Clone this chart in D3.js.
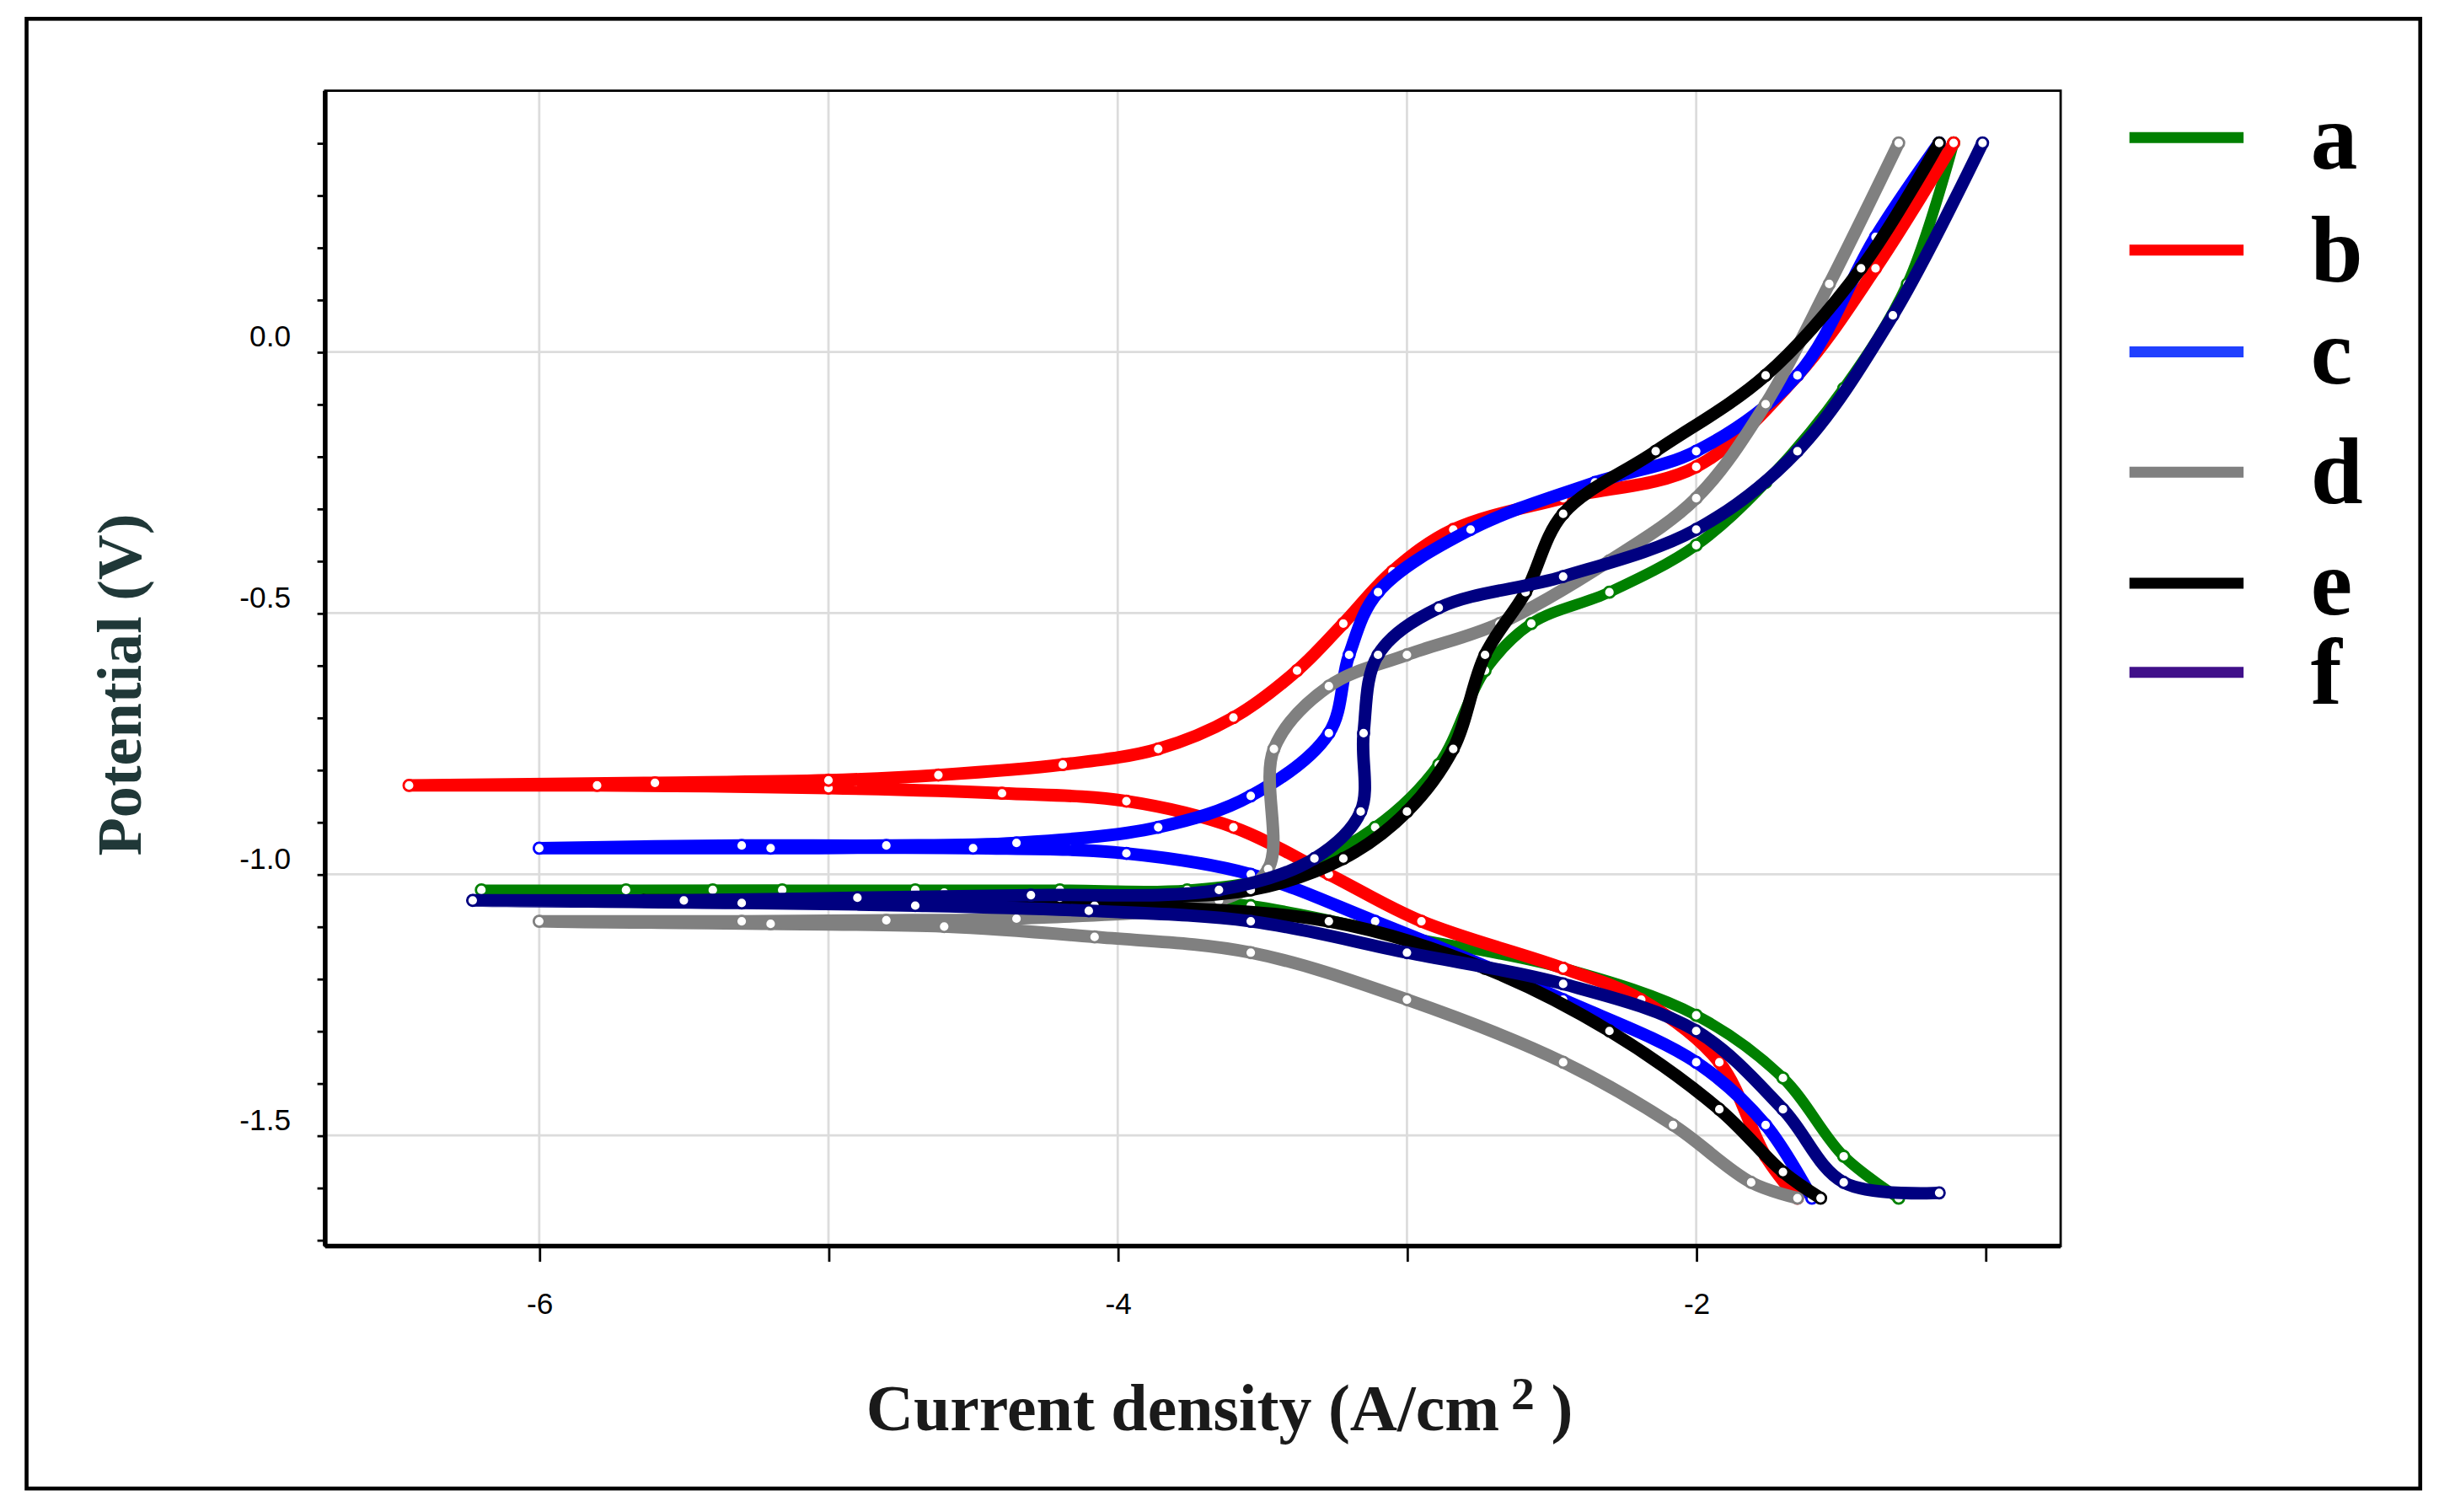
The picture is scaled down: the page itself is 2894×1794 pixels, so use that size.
<!DOCTYPE html>
<html><head><meta charset="utf-8">
<script src="https://cdn.jsdelivr.net/npm/d3@7"></script>
<style>body{margin:0;background:#fff}</style>
</head><body>
<script>
// [log i, E] pairs, sweep from cathodic end to anodic end
const seriesA = [[-1.3,-1.62],[-1.49,-1.54],[-1.7,-1.39],[-2.0,-1.27],[-2.46,-1.18],[-3.0,-1.12],[-3.54,-1.06],[-4.08,-1.04],[-4.6,-1.035],[-5.16,-1.03],[-5.7,-1.03],[-6.2,-1.03],[-5.4,-1.03],[-4.7,-1.03],[-4.2,-1.03],[-3.76,-1.03],[-3.43,-1.0],[-3.11,-0.91],[-2.89,-0.79],[-2.73,-0.61],[-2.57,-0.52],[-2.3,-0.46],[-2.0,-0.37],[-1.76,-0.25],[-1.49,-0.07],[-1.27,0.13],[-1.11,0.40]];
const seriesB = [[-1.65,-1.62],[-1.76,-1.54],[-1.92,-1.36],[-2.19,-1.24],[-2.46,-1.18],[-2.95,-1.09],[-3.27,-1.0],[-3.6,-0.91],[-3.97,-0.86],[-4.4,-0.845],[-5.0,-0.835],[-5.8,-0.83],[-6.45,-0.83],[-5.6,-0.825],[-5.0,-0.82],[-4.62,-0.81],[-4.19,-0.79],[-3.86,-0.76],[-3.6,-0.70],[-3.38,-0.61],[-3.22,-0.52],[-3.05,-0.42],[-2.84,-0.34],[-2.46,-0.28],[-2.0,-0.22],[-1.65,-0.045],[-1.38,0.16],[-1.11,0.40]];
const seriesC = [[-1.6,-1.62],[-1.76,-1.48],[-2.0,-1.36],[-2.46,-1.24],[-3.11,-1.09],[-3.54,-1.0],[-3.97,-0.96],[-4.5,-0.95],[-5.2,-0.95],[-6.0,-0.95],[-5.3,-0.945],[-4.8,-0.945],[-4.35,-0.94],[-3.86,-0.91],[-3.54,-0.85],[-3.27,-0.73],[-3.2,-0.58],[-3.1,-0.46],[-2.78,-0.34],[-2.35,-0.25],[-2.0,-0.19],[-1.65,-0.045],[-1.38,0.22],[-1.16,0.40]];
const seriesD = [[-1.65,-1.62],[-1.81,-1.59],[-2.08,-1.48],[-2.46,-1.36],[-3.0,-1.24],[-3.54,-1.15],[-4.08,-1.12],[-4.6,-1.1],[-5.2,-1.095],[-6.0,-1.09],[-5.3,-1.09],[-4.8,-1.088],[-4.35,-1.085],[-3.65,-1.05],[-3.48,-0.99],[-3.46,-0.76],[-3.27,-0.64],[-3.0,-0.58],[-2.68,-0.52],[-2.3,-0.40],[-2.0,-0.28],[-1.76,-0.10],[-1.54,0.13],[-1.3,0.40]];
const seriesE = [[-1.57,-1.62],[-1.7,-1.57],[-1.92,-1.45],[-2.3,-1.30],[-2.73,-1.18],[-3.27,-1.09],[-4.08,-1.06],[-4.8,-1.055],[-5.64,-1.05],[-4.9,-1.05],[-4.2,-1.045],[-3.54,-1.03],[-3.22,-0.97],[-3.0,-0.88],[-2.84,-0.76],[-2.73,-0.58],[-2.59,-0.46],[-2.46,-0.31],[-2.14,-0.19],[-1.76,-0.045],[-1.43,0.16],[-1.16,0.40]];
const seriesF = [[-1.16,-1.61],[-1.49,-1.59],[-1.7,-1.45],[-2.0,-1.30],[-2.46,-1.21],[-3.0,-1.15],[-3.54,-1.09],[-4.1,-1.07],[-4.7,-1.06],[-5.3,-1.055],[-6.23,-1.05],[-5.5,-1.05],[-4.9,-1.045],[-4.3,-1.04],[-3.65,-1.03],[-3.32,-0.97],[-3.16,-0.88],[-3.15,-0.73],[-3.1,-0.58],[-2.89,-0.49],[-2.46,-0.43],[-2.0,-0.34],[-1.65,-0.19],[-1.32,0.07],[-1.01,0.40]];

const names = ["a","b","c","d","e","f"];
const curveColors = ["#008000","#ff0000","#0000ff","#808080","#000000","#000080"];
const legendColors = ["#008000","#ff0000","#2040ff","#808080","#000000","#40108a"];
const allSeries = [seriesA, seriesB, seriesC, seriesD, seriesE, seriesF];
const xLabeled = [-6, -4, -2];
const yLabeled = [0, -0.5, -1.0, -1.5];

const W = 1560, H = 967;
const svg = d3.select("body").append("svg")
  .attr("width", 2894).attr("height", 1794)
  .attr("viewBox", `0 0 ${W} ${H}`);

svg.append("rect").attr("x", 17).attr("y", 12).attr("width", 1531).attr("height", 940)
  .attr("fill", "none").attr("stroke", "#000").attr("stroke-width", 2.5);

const L = 208, R = 1318, T = 58, B = 797;
const x = d3.scaleLinear().domain([-6.74, -0.74]).range([L, R]);
const y = d3.scaleLinear().domain([0.5, -1.712]).range([T, B]);

// grid
const g = svg.append("g");
g.selectAll(".gx").data(d3.range(-6, -1)).join("line")
  .attr("x1", d => x(d)).attr("x2", d => x(d)).attr("y1", T).attr("y2", B)
  .attr("stroke", "#dcdcdc").attr("stroke-width", 1.5);
g.selectAll(".gy").data(yLabeled).join("line")
  .attr("y1", d => y(d)).attr("y2", d => y(d)).attr("x1", L).attr("x2", R)
  .attr("stroke", "#dcdcdc").attr("stroke-width", 1.5);

// frame
svg.append("rect").attr("x", L).attr("y", T).attr("width", R - L).attr("height", B - T)
  .attr("fill", "none").attr("stroke", "#000").attr("stroke-width", 1.5);
svg.append("line").attr("x1", L).attr("x2", R).attr("y1", B).attr("y2", B).attr("stroke", "#000").attr("stroke-width", 3);
svg.append("line").attr("x1", L).attr("x2", L).attr("y1", T).attr("y2", B).attr("stroke", "#000").attr("stroke-width", 3);

// axes
const xAxis = svg.append("g").attr("transform", `translate(0,${B})`)
  .call(d3.axisBottom(x).tickValues(d3.range(-6, 0)).tickSize(10)
    .tickFormat(d => xLabeled.includes(d) ? d3.format("d")(d).replace("−", "-") : ""));
xAxis.select(".domain").remove();
xAxis.selectAll(".tick line").attr("stroke-width", 1.5);
xAxis.selectAll("text").attr("dy", "1.6em").style("font-family", "Arial, sans-serif").style("font-size", "19px").attr("fill", "#000");

const yTicks = d3.range(4, -18, -1).map(d => d / 10);
const yAxis = svg.append("g").attr("transform", `translate(${L},0)`)
  .call(d3.axisLeft(y).tickValues(yTicks).tickSize(5)
    .tickFormat(d => yLabeled.some(v => Math.abs(v - d) < 1e-9) ? d3.format(".1f")(d).replace("−", "-") : ""));
yAxis.select(".domain").remove();
yAxis.selectAll(".tick line").attr("stroke-width", 1.5);
yAxis.selectAll("text").attr("x", -22).attr("dy", "-0.2em").style("font-family", "Arial, sans-serif").style("font-size", "19px").attr("fill", "#000");

// curves
const line = d3.line().x(d => x(d[0])).y(d => y(d[1])).curve(d3.curveCatmullRom.alpha(0.5));
allSeries.forEach((s, i) => {
  svg.append("path").datum(s).attr("d", line).attr("fill", "none")
    .attr("stroke", curveColors[i]).attr("stroke-width", i === 0 ? 7 : 8).attr("stroke-linejoin", "round");
  svg.selectAll(null).data(s).join("circle")
    .attr("cx", d => x(d[0])).attr("cy", d => y(d[1])).attr("r", 3.5)
    .attr("fill", "#fff").attr("stroke", curveColors[i]).attr("stroke-width", 1.5);
});

// labels
svg.append("text").attr("transform", "translate(90,438) rotate(-90)").attr("text-anchor", "middle")
  .style("font-family", "'Liberation Serif', 'Times New Roman', serif").style("font-weight", "bold")
  .style("font-size", "40px").attr("fill", "#203838").text("Potential (V)");
const xl = svg.append("text").attr("x", 780).attr("y", 915).attr("text-anchor", "middle")
  .style("font-family", "'Liberation Serif', 'Times New Roman', serif").style("font-weight", "bold")
  .style("font-size", "42px").attr("fill", "#1a1a1a");
xl.append("tspan").text("Current density (A/cm");
xl.append("tspan").attr("dy", -14).style("font-size", "30px").text(" 2");
xl.append("tspan").attr("dy", 14).text(" )");

// legend
const legendY = [88, 160, 225, 302, 373, 430];
const lg = svg.append("g");
names.forEach((n, i) => {
  lg.append("line").attr("x1", 1362).attr("x2", 1435).attr("y1", legendY[i]).attr("y2", legendY[i])
    .attr("stroke", legendColors[i]).attr("stroke-width", 7);
  lg.append("text").attr("x", 1478).attr("y", legendY[i] + 20)
    .style("font-family", "'Liberation Serif', 'Times New Roman', serif").style("font-weight", "bold")
    .style("font-size", "60px").attr("fill", "#000").text(n);
});
</script>
</body></html>
